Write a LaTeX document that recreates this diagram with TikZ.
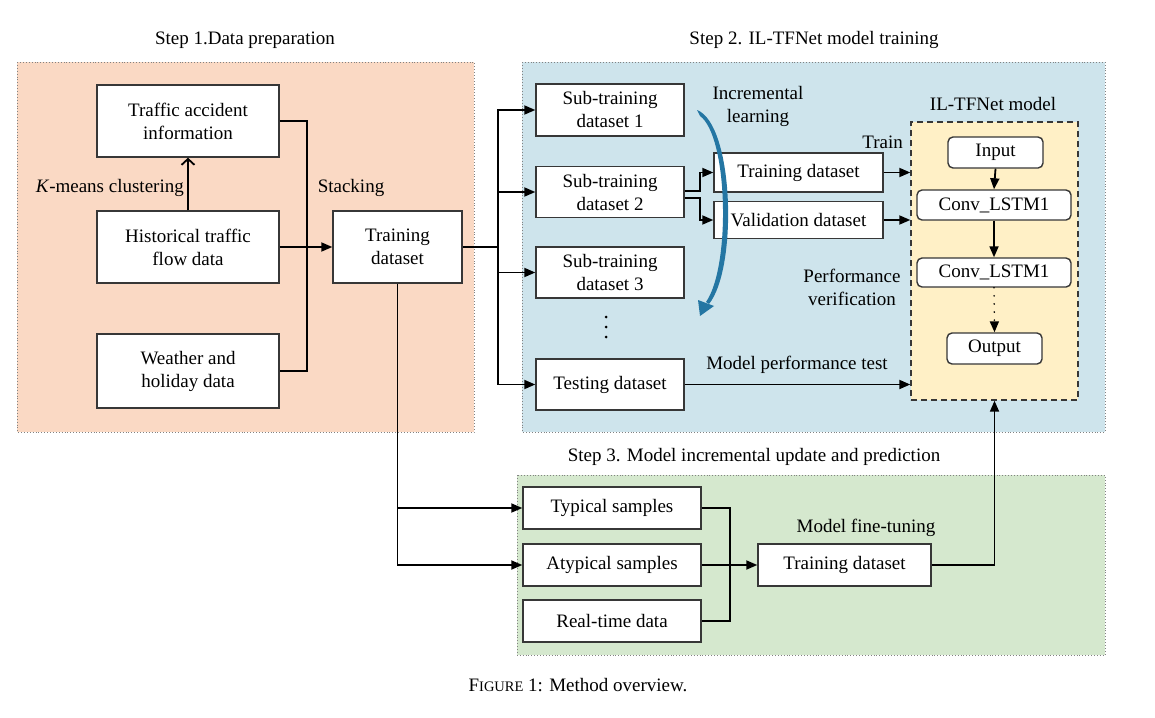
\documentclass[tikz,border=0pt]{standalone}
\usepackage{fontspec}
\setmainfont{Liberation Serif}
\usetikzlibrary{arrows.meta,calc}
\definecolor{peach}{RGB}{250,217,196}
\definecolor{lblue}{RGB}{206,228,236}
\definecolor{lgreen}{RGB}{213,232,206}
\definecolor{lyellow}{RGB}{255,240,198}
\definecolor{arrblue}{RGB}{36,118,163}
\definecolor{boxgray}{RGB}{55,55,55}
\definecolor{dotgray}{RGB}{130,130,130}
\begin{document}
\begin{tikzpicture}[x=1pt,y=-1pt,
  font=\fontsize{19}{23}\selectfont,
  box/.style={draw=boxgray,line width=1.4pt,fill=white,inner sep=0pt,align=center},
  rbox/.style={box,rounded corners=5pt},
  panel/.style={draw=dotgray,dotted,line width=0.9pt},
  conn/.style={line width=1.8pt,black},
  arr/.style={conn,-{Triangle[length=11pt,width=9pt]}},
  lbl/.style={inner sep=0pt,align=center}]
\useasboundingbox (0,0) rectangle (1155,717);
\fill[white] (0,0) rectangle (1155,717);

% panels
\filldraw[panel,fill=peach] (17,62) rectangle (474,432);
\filldraw[panel,fill=lblue] (522,62) rectangle (1105,432);
\filldraw[panel,fill=lgreen] (517,475) rectangle (1105,655);

% titles
\node[lbl] (t1) at (245,40) {Step 1.Data preparation};
\node[lbl] (t2) at (814,40) {Step 2. IL-TFNet model training};
\node[lbl] (t3) at (754,457) {Step 3. Model incremental update and prediction};

% model box
\node[draw=boxgray,dash pattern=on 6pt off 4pt,fill=lyellow,line width=1.4pt,
      minimum width=167pt,minimum height=278pt,inner sep=0pt] (model) at (994.5,261) {};
\node[lbl] (tm) at (993,104) {IL-TFNet model};

% step 1 boxes
\node[box,minimum width=182pt,minimum height=72pt] (acc) at (188,121) {Traffic accident\\information};
\node[box,minimum width=182pt,minimum height=72pt] (hist) at (188,247) {Historical traffic\\flow data};
\node[box,minimum width=182pt,minimum height=74pt] (weather) at (188,371) {Weather and\\holiday data};
\node[box,minimum width=129pt,minimum height=72pt] (train1) at (397.5,247) {Training\\dataset};

% step 2 boxes
\node[box,minimum width=148pt,minimum height=52pt] (sub1) at (610,110) {Sub-training\\dataset 1};
\node[box,minimum width=148pt,minimum height=51pt] (sub2) at (610,192) {Sub-training\\dataset 2};
\node[box,minimum width=148pt,minimum height=51pt] (sub3) at (610,272.5) {Sub-training\\dataset 3};
\node[box,minimum width=148pt,minimum height=51pt] (test) at (610,384.5) {Testing dataset};
\node[box,minimum width=169pt,minimum height=39pt] (trainD) at (798.5,172.5) {Training dataset};
\node[box,minimum width=169pt,minimum height=37pt] (valD) at (798.5,220) {Validation dataset};

% model inner boxes
\node[rbox,minimum width=95pt,minimum height=31pt] (input) at (995.5,152.5) {Input};
\node[rbox,minimum width=154pt,minimum height=30pt] (conv1) at (994,205) {Conv\_LSTM1};
\node[rbox,minimum width=154pt,minimum height=29pt] (conv2) at (994,272.5) {Conv\_LSTM1};
\node[rbox,minimum width=95pt,minimum height=31pt] (output) at (994.5,348.5) {Output};

% step 3 boxes
\node[box,minimum width=178pt,minimum height=42pt] (typ) at (612,508) {Typical samples};
\node[box,minimum width=178pt,minimum height=42pt] (atyp) at (612,565) {Atypical samples};
\node[box,minimum width=178pt,minimum height=42pt] (real) at (612,621) {Real-time data};
\node[box,minimum width=173pt,minimum height=42pt] (train3) at (844.5,565) {Training dataset};

% labels
\node[lbl,anchor=east] (km) at (184,188) {\textit{K}-means clustering};
\node[lbl] (stk) at (351,188) {Stacking};
\node[lbl] (inc) at (758,106) {Incremental\\learning};
\node[lbl,anchor=east] (trl) at (903,142) {Train};
\node[lbl] (pv) at (852,287) {Performance\\verification};
\node[lbl] (mpt) at (797,365) {Model performance test};
\node[lbl] (mft) at (866,528) {Model fine-tuning};
\node[lbl] (cap) at (578,685) {F{\fontsize{14.5}{16}\selectfont IGURE} 1: Method overview.};

% vertical ellipsis
\fill (606,317) circle (1.5) (606,327) circle (1.5) (606,337) circle (1.5);

% step 1 connectors
\draw[conn,-{Straight Barb[length=6pt,width=13pt]}] (hist.north) -- (acc.south);
\coordinate (s1) at (307,121);
\coordinate (s2) at (307,371);
\draw[conn] (acc.east) -- (s1) -- (s2) -- (weather.east);
\draw[arr] (hist.east) -- (train1.west);

% step 2 connectors
\coordinate (b2) at (498,247);
\draw[conn] (train1.east) -- (b2);
\draw[arr] (b2) |- (sub1.west);
\draw[arr] (b2) |- (sub2.west);
\draw[arr] (b2) |- (sub3.west);
\draw[arr] (b2) |- (test.west);
\draw[arr] ($(sub2.east)+(0,-1)$) -- ++(15,0) |- (trainD.west);
\draw[arr] ($(sub2.east)+(0,6)$) -- ++(15,0) |- (valD.west);
\draw[arr] (trainD.east) -- (trainD.east -| model.west);
\draw[arr] (valD.east) -- (valD.east -| model.west);
\draw[arr] (test.east) -- (test.east -| model.west);

% model internal
\draw[arr] (input.south) -- (conv1.north);
\draw[arr] (conv1.south) -- (conv2.north);
\draw[arr,line cap=round,dash pattern=on 0.1pt off 8pt] (conv2.south) -- (output.north);

% step 3 connectors
\draw[arr] (train1.south) |- (typ.west);
\draw[arr] (train1.south) |- (atyp.west);
\coordinate (c1) at (730,508);
\coordinate (c2) at (730,621);
\draw[conn] (typ.east) -- (c1) -- (c2) -- (real.east);
\draw[arr] (atyp.east) -- (train3.west);
\draw[arr] (train3.east) -| (model.south);

% incremental learning curved arrow
\fill[arrblue] (697,110) .. controls (734,124) and (738,268) .. (709,304)
  -- (706,302) .. controls (731,266) and (728,136) .. (700,116) -- cycle;
\fill[arrblue] (698,300) -- (714,306) -- (700,316) -- cycle;
\end{tikzpicture}
\end{document}
